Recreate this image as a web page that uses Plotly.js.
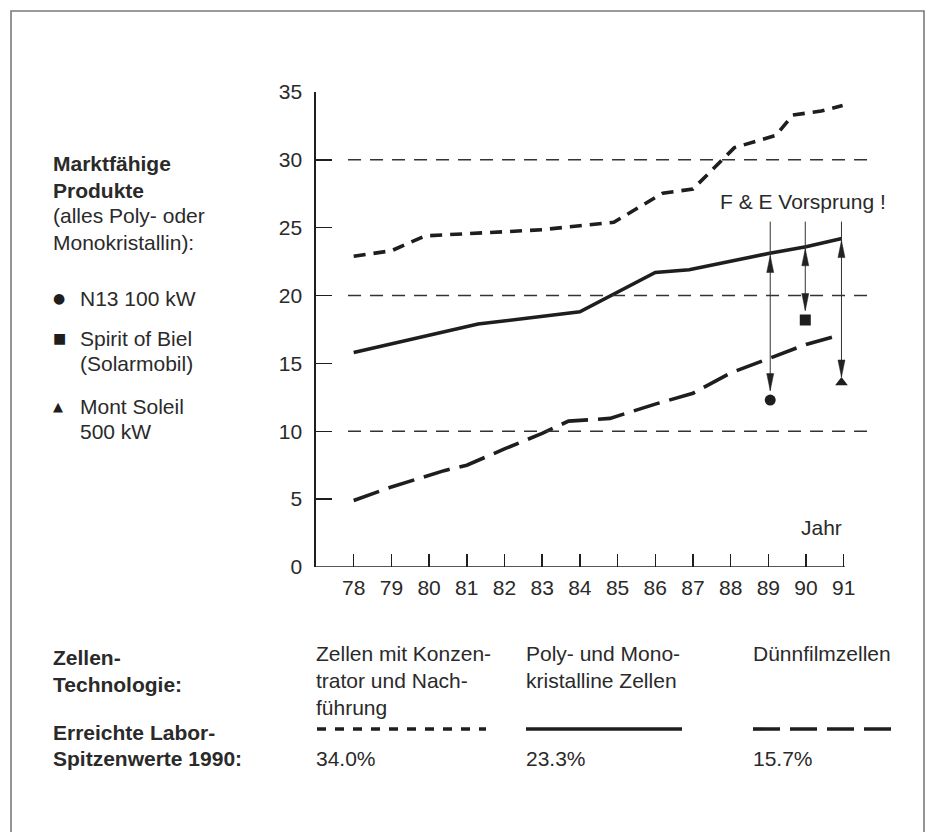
<!DOCTYPE html>
<html>
<head>
<meta charset="utf-8">
<script src="https://cdn.plot.ly/plotly-3.0.1.min.js"></script>
<style>
  html, body { margin: 0; padding: 0; background: #fff; }
  #chart { width: 928px; height: 832px; }
</style>
</head>
<body>
<div id="chart"></div>
<script>
// ---------- data ----------
const yearTicks = [78, 79, 80, 81, 82, 83, 84, 85, 86, 87, 88, 89, 90, 91];
const yTicks = [0, 5, 10, 15, 20, 25, 30, 35];
const gridValues = [10, 20, 30];

// Zellen mit Konzentrator und Nachführung (short dashes)
const konzYears = [78, 79, 79.9, 81, 82, 83, 84, 84.9, 86.2, 87, 88.1, 89.2, 89.65, 90.4, 90.97];
const konzValues = [22.9, 23.3, 24.4, 24.55, 24.65, 24.85, 25.15, 25.4, 27.55, 27.85, 30.9, 31.8, 33.3, 33.6, 34.0];

// Poly- und Monokristalline Zellen (solid)
const polyYears = [78, 81.3, 84, 86, 86.9, 89, 90, 90.95];
const polyValues = [15.8, 17.9, 18.8, 21.7, 21.9, 23.1, 23.6, 24.2];

// Dünnfilmzellen (long dashes)
const duennYears = [78, 79, 80.4, 81, 82, 83, 83.7, 84.8, 86, 87, 88, 89, 90, 90.9];
const duennValues = [4.9, 5.9, 7.1, 7.5, 8.7, 9.85, 10.75, 10.95, 12.0, 12.8, 14.3, 15.35, 16.4, 17.1];

// Marktfähige Produkte
const productNames = ["N13 100 kW", "Spirit of Biel (Solarmobil)", "Mont Soleil 500 kW"];
const productYears = [89.05, 89.98, 90.94];
const productValues = [12.3, 18.2, 13.6];
const productSymbols = ["circle", "square", "triangle-up"];

// F & E Vorsprung arrows
const arrowYears = [89.05, 89.98, 90.94];
const arrowTop = [22.95, 23.45, 24.05];
const arrowBottom = [13.0, 18.9, 14.0];
const leaderTop = 25.45;

// texts
const legendNames = [["Zellen mit Konzen-", "trator und Nach-", "führung"], ["Poly- und Mono-", "kristalline Zellen"], ["Dünnfilmzellen"]];
const labRecords = ["34.0%", "23.3%", "15.7%"];

// ---------- layout geometry (pixels) ----------
const L = 316, R = 872, T = 92, B = 567;
const W = R - L, H = B - T;
const px = x => (x - L) / W;
const py = y => (B - y) / H;

const FONT = "Liberation Sans, Arial, Helvetica, sans-serif";
const INK = "#1e1e1e";
const TXT = "#2a2a2a";
const FS = 21;

function label(text, x, y, extra) {
  return Object.assign({
    text: text, x: px(x), y: py(y), xref: "paper", yref: "paper",
    xanchor: "left", yanchor: "middle", showarrow: false,
    font: { family: FONT, size: FS, color: TXT }
  }, extra || {});
}

const traces = [
  { x: konzYears, y: konzValues, mode: "lines", line: { color: INK, width: 3.6, dash: "12px,8px" }, cliponaxis: false, hoverinfo: "skip" },
  { x: polyYears, y: polyValues, mode: "lines", line: { color: INK, width: 3.6 }, cliponaxis: false, hoverinfo: "skip" },
  { x: duennYears, y: duennValues, mode: "lines", line: { color: INK, width: 3.6, dash: "27px,10px" }, cliponaxis: false, hoverinfo: "skip" }
];
productYears.forEach((yr, i) => {
  traces.push({ x: [yr], y: [productValues[i]], mode: "markers", name: productNames[i],
    marker: { symbol: productSymbols[i], size: 11, color: INK }, cliponaxis: false, hoverinfo: "skip" });
});

const shapes = [];
// frame
shapes.push({ type: "rect", xref: "paper", yref: "paper", x0: px(11), x1: px(924), y0: py(11), y1: py(845),
  line: { color: "#7a7a7a", width: 1.6 }, fillcolor: "rgba(0,0,0,0)" });
// dashed gridlines
gridValues.forEach(v => shapes.push({ type: "line", xref: "x", yref: "y", x0: 77.85, x1: 91.75, y0: v, y1: v,
  line: { color: "#333", width: 1.5, dash: "13px,9px" } }));
// x axis line
shapes.push({ type: "line", xref: "x", yref: "y", x0: 77, x1: 91.03, y0: 0, y1: 0, line: { color: INK, width: 1.6 } });
// arrow shafts (from the lower tip up to the leader top) and narrow arrow heads
arrowYears.forEach((yr, i) => {
  shapes.push({ type: "line", xref: "x", yref: "y", x0: yr, x1: yr, y0: arrowBottom[i], y1: leaderTop,
    line: { color: "#333", width: 1 } });
  shapes.push({ type: "path", xref: "x", yref: "y", xsizemode: "pixel", ysizemode: "pixel",
    xanchor: yr, yanchor: arrowTop[i], path: "M0,0 L-3.5,-17 L3.5,-17 Z",
    fillcolor: "#222", line: { color: "#222", width: 0.5 } });
  shapes.push({ type: "path", xref: "x", yref: "y", xsizemode: "pixel", ysizemode: "pixel",
    xanchor: yr, yanchor: arrowBottom[i], path: "M0,0 L-3.5,17 L3.5,17 Z",
    fillcolor: "#222", line: { color: "#222", width: 0.5 } });
});
// legend line samples
const legY = py(729);
shapes.push({ type: "line", xref: "paper", yref: "paper", x0: px(317), x1: px(486), y0: legY, y1: legY, line: { color: INK, width: 3.6, dash: "9px,9px" } });
shapes.push({ type: "line", xref: "paper", yref: "paper", x0: px(526), x1: px(682), y0: legY, y1: legY, line: { color: INK, width: 3.6 } });
shapes.push({ type: "line", xref: "paper", yref: "paper", x0: px(753), x1: px(891), y0: legY, y1: legY, line: { color: INK, width: 3.6, dash: "27px,10px" } });

const annotations = [];
annotations.push(label("F & E Vorsprung !", 718, 201));
annotations.push({ text: "Jahr", x: 91, y: 2.9, xref: "x", yref: "y", xanchor: "right", yanchor: "middle",
  showarrow: false, font: { family: FONT, size: FS, color: TXT } });

// left column
const LX = 51, TX = 78;
annotations.push(label("<b>Marktfähige</b>", LX, 163));
annotations.push(label("<b>Produkte</b>", LX, 190));
annotations.push(label("(alles Poly- oder", LX, 216));
annotations.push(label("Monokristallin):", LX, 242));
annotations.push(label("●", LX, 298, { font: { family: "DejaVu Sans", size: 14, color: INK } }));
annotations.push(label(productNames[0], TX, 298));
annotations.push(label("■", LX, 338, { font: { family: "DejaVu Sans", size: 14, color: INK } }));
annotations.push(label("Spirit of Biel", TX, 338));
annotations.push(label("(Solarmobil)", TX, 363));
annotations.push(label("▲", LX, 406, { font: { family: "DejaVu Sans", size: 13, color: INK } }));
annotations.push(label("Mont Soleil", TX, 406));
annotations.push(label("500 kW", TX, 431));

// bottom block
annotations.push(label("<b>Zellen-</b>", LX, 657));
annotations.push(label("<b>Technologie:</b>", LX, 684));
annotations.push(label("<b>Erreichte Labor-</b>", LX, 732));
annotations.push(label("<b>Spitzenwerte 1990:</b>", LX, 758));
const colX = [314, 524, 751];
legendNames.forEach((lines, c) => lines.forEach((t, r) => annotations.push(label(t, colX[c], 653 + r * 27))));
labRecords.forEach((t, c) => annotations.push(label(t, colX[c], 758)));

const layout = {
  width: 928, height: 832,
  margin: { l: L, r: 928 - R, t: T, b: 832 - B, pad: 0 },
  paper_bgcolor: "#fff", plot_bgcolor: "#fff",
  showlegend: false,
  font: { family: FONT, size: FS, color: TXT },
  xaxis: {
    range: [77, 91.75], tickvals: yearTicks, ticktext: yearTicks.map(String),
    ticks: "inside", ticklen: 13, tickwidth: 1.5, tickcolor: INK,
    showline: false, showgrid: false, zeroline: false,
    ticklabelstandoff: 6, tickfont: { family: FONT, size: FS, color: TXT }
  },
  yaxis: {
    range: [0, 35], tickvals: yTicks, ticktext: yTicks.map(String),
    ticks: "inside", ticklen: 16, tickwidth: 1.5, tickcolor: INK,
    showline: true, linewidth: 1.6, linecolor: INK, showgrid: false, zeroline: false,
    ticklabelstandoff: 8, tickfont: { family: FONT, size: FS, color: TXT }
  },
  shapes: shapes,
  annotations: annotations
};

Plotly.newPlot("chart", traces, layout, { staticPlot: true, displayModeBar: false });
</script>
</body>
</html>
